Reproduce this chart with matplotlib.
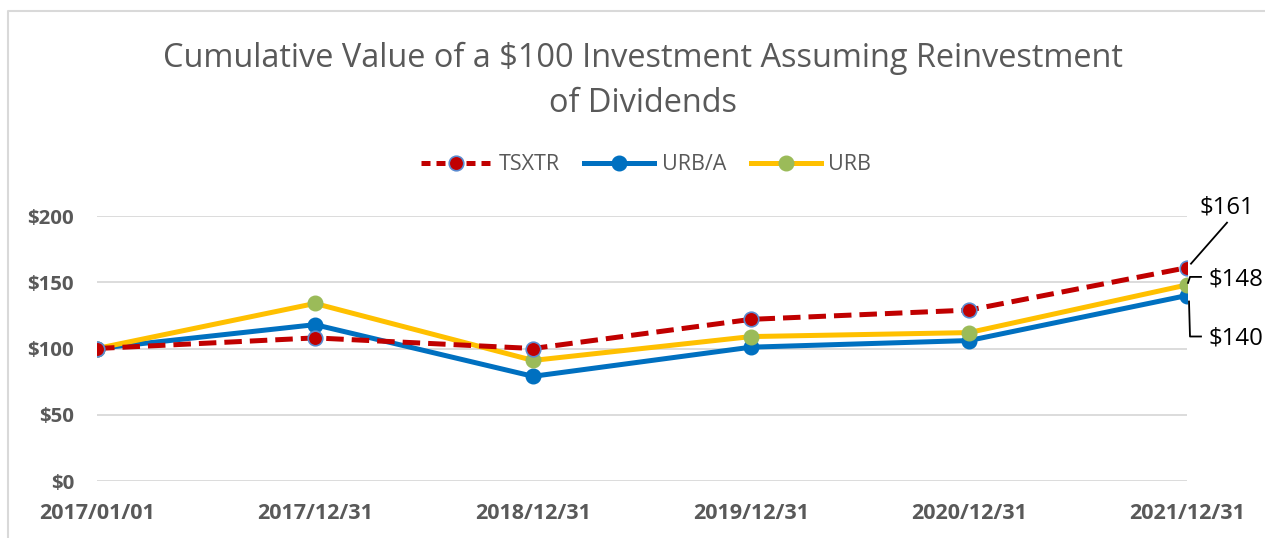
import matplotlib
matplotlib.use("Agg")
import numpy as np
from matplotlib import pyplot as plt
from matplotlib.lines import Line2D
from matplotlib.transforms import IdentityTransform

plt.rcParams['font.family'] = ['Open Sans', 'DejaVu Sans']

dates = ['2017/01/01', '2017/12/31', '2018/12/31', '2019/12/31', '2020/12/31', '2021/12/31']
tsxtr = [100, 108, 100, 122, 129, 161]
urb_a = [100, 118, 79, 101, 106, 140]
urb = [100, 134, 91, 109, 112, 148]
yticks = [0, 50, 100, 150, 200]

grey = '#595959'
x = np.arange(len(dates))

fig = plt.figure(figsize=(12.65, 5.38), dpi=100)
ax = fig.add_axes([97 / 1265, 57 / 538, 1090 / 1265, 265 / 538])

ax.plot(x, urb_a, color='#0070C0', lw=3.6, marker='o', ms=10.5,
        mfc='#0070C0', mec='#0070C0', zorder=3, label='URB/A')
ax.plot(x, urb, color='#FFC000', lw=3.6, marker='o', ms=10.5,
        mfc='#9BBB59', mec='#9BBB59', zorder=4, label='URB')
ax.plot(x, tsxtr, color='#C00000', lw=3.6, dashes=(3.5, 1.6), marker='o', ms=10.5,
        mfc='#C00000', mec='#5B8BD0', mew=1.2, zorder=5, label='TSXTR')

ax.set_xlim(0, len(dates) - 1)
ax.set_ylim(0, 200)
ax.set_yticks(yticks)
ax.set_yticklabels(['$%d' % v for v in yticks])
ax.set_xticks(x)
ax.set_xticklabels(dates)
for s in ax.spines.values():
    s.set_visible(False)
ax.grid(axis='y', color='#D9D9D9', lw=1.3)
ax.set_axisbelow(True)
ax.tick_params(length=0, colors=grey)
ax.tick_params(axis='y', pad=16.5, labelsize=14.7)
ax.tick_params(axis='x', pad=16, labelsize=15.5)
for lab in ax.get_xticklabels() + ax.get_yticklabels():
    lab.set_fontweight('bold')
    lab.set_color(grey)

fig.text(643 / 1265, 1 - 81 / 538, 'Cumulative Value of a $100 Investment Assuming Reinvestment\nof Dividends',
         ha='center', va='center', fontsize=23.4, color=grey, linespacing=1.5)

handles = [
    Line2D([], [], color='#C00000', lw=3.6, dashes=(1.8, 1.2), marker='o', ms=10.5,
           mfc='#C00000', mec='#5B8BD0', mew=1.2),
    Line2D([], [], color='#0070C0', lw=3.6, marker='o', ms=10.5, mfc='#0070C0', mec='#0070C0'),
    Line2D([], [], color='#FFC000', lw=3.6, marker='o', ms=10.5, mfc='#9BBB59', mec='#9BBB59'),
]
fig.legend(handles, ['TSXTR', 'URB/A', 'URB'], loc='center', bbox_to_anchor=(646 / 1265, 1 - 165 / 538),
           ncol=3, frameon=False, fontsize=15.5, handlelength=3.25, handletextpad=0.35,
           columnspacing=1.15, labelcolor=grey)

# data labels on the last point, with leader lines drawn in pixels from the point
fig.canvas.draw()
last = len(dates) - 1


def px(val):
    return ax.transData.transform((last, val))


def leader(pts):
    fig.add_artist(Line2D([p[0] for p in pts], [p[1] for p in pts], transform=IdentityTransform(),
                          color='black', lw=1.3))


def label(val, dx, dy):
    p = px(val)
    fig.text(p[0] + dx, p[1] + dy, '$%d' % val, transform=IdentityTransform(),
             ha='center', va='center', fontsize=17.3, color='black')


p = px(tsxtr[-1])
leader([(p[0] + 4, p[1] + 4), (p[0] + 40, p[1] + 45)])
label(tsxtr[-1], 40, 60)

p = px(urb[-1])
leader([(p[0] + 1, p[1] + 2), (p[0] + 3, p[1] + 8), (p[0] + 14, p[1] + 8)])
label(urb[-1], 49, 5)

p = px(urb_a[-1])
leader([(p[0] + 2, p[1] - 6), (p[0] + 3, p[1] - 41), (p[0] + 14, p[1] - 41)])
label(urb_a[-1], 49, -43)

# chart frame (top and left edges visible)
fig.add_artist(Line2D([8 / 1265, 8 / 1265, 1.0], [0.0, 1 - 11 / 538, 1 - 11 / 538],
                      transform=fig.transFigure, color='#D9D9D9', lw=1.5))

fig.savefig('out.png', dpi=100)
